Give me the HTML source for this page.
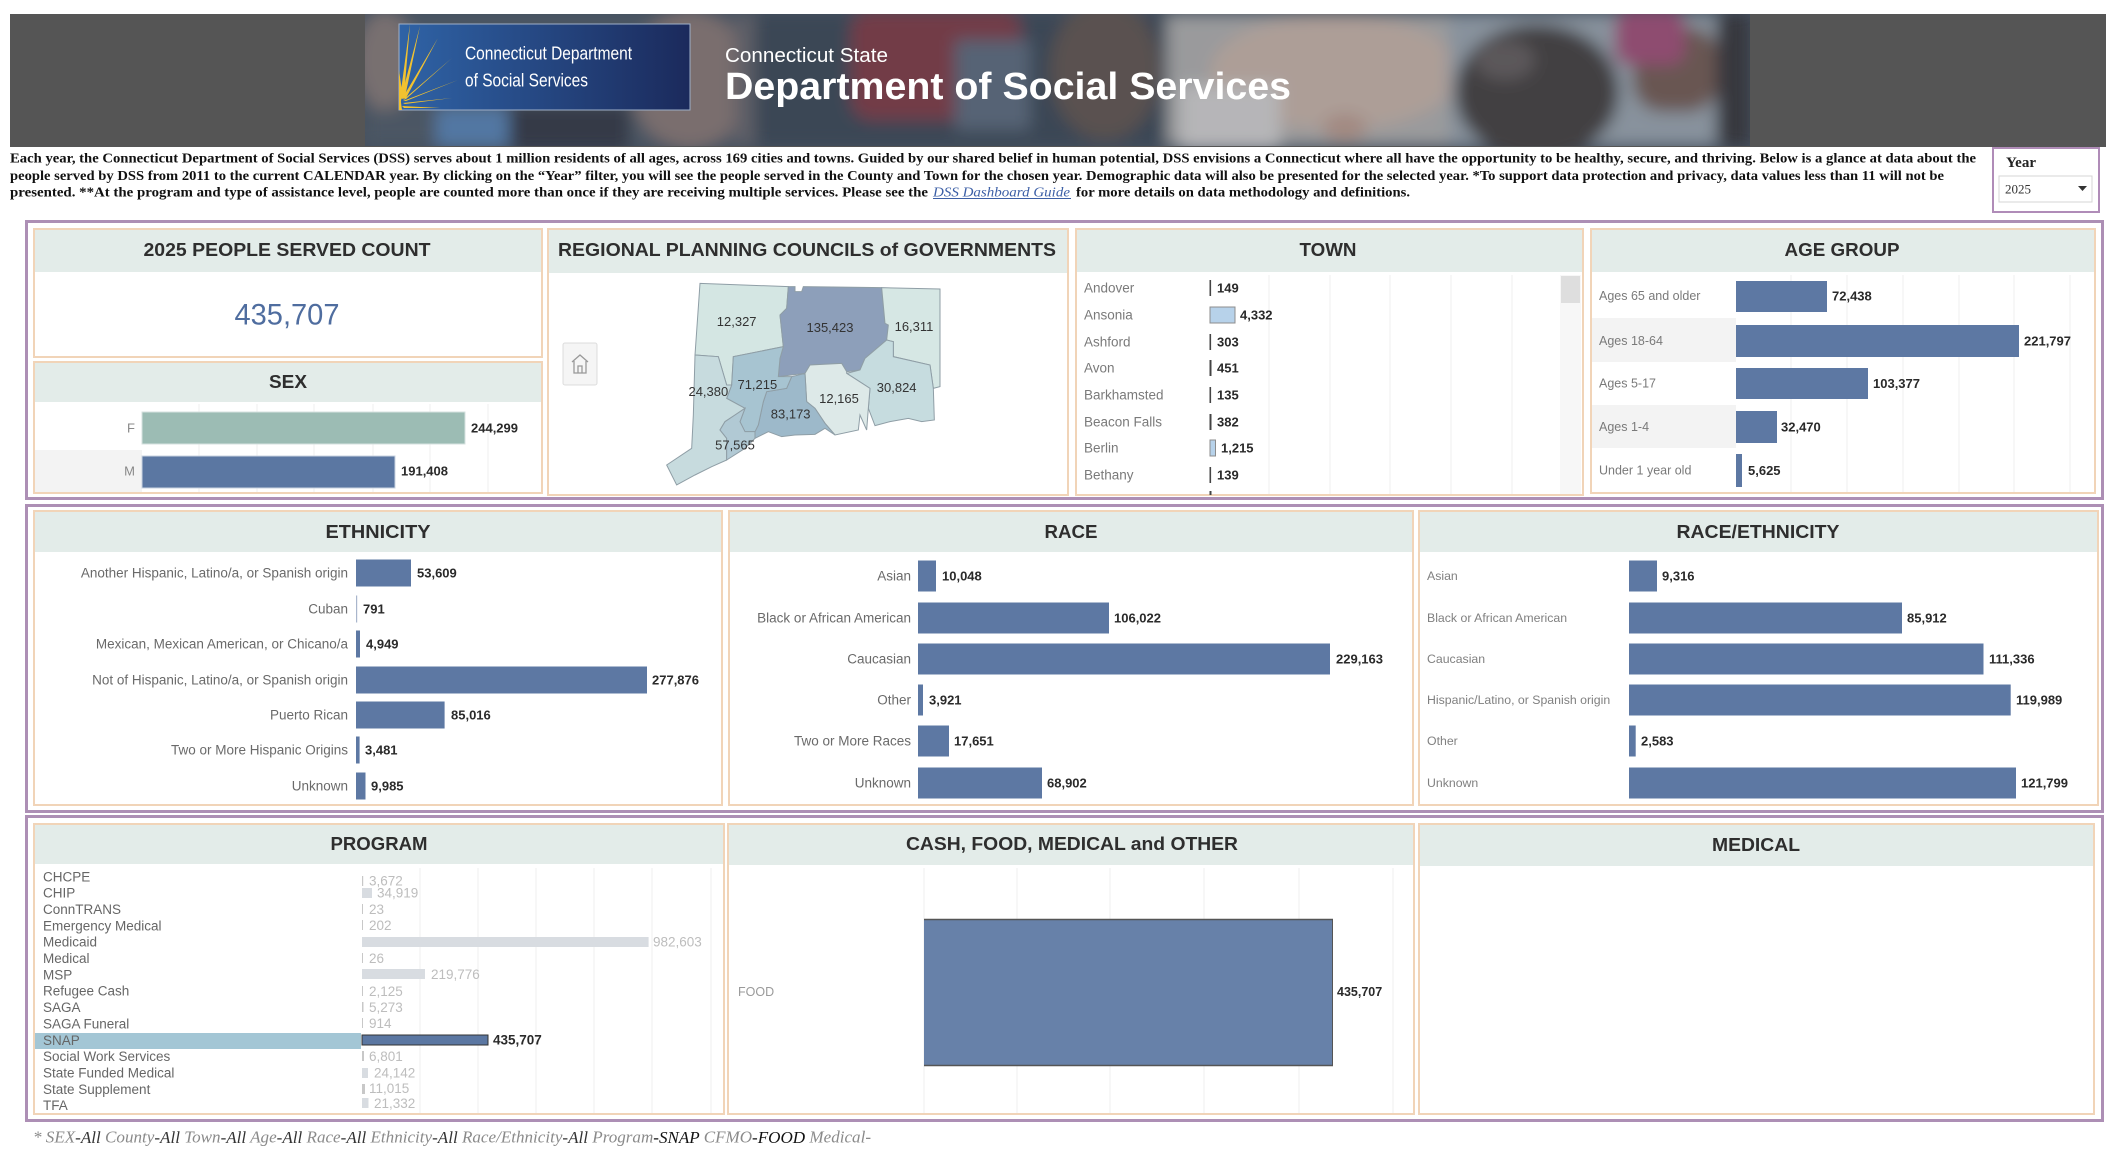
<!DOCTYPE html>
<html><head><meta charset="utf-8">
<style>
html,body{margin:0;padding:0;background:#fff;}
body{width:2127px;height:1159px;overflow:hidden;}
svg{display:block;}
text{font-family:"Liberation Sans",Arial,sans-serif;dominant-baseline:central;}
.hd{font-weight:bold;font-size:18px;fill:#2e2e2e;text-anchor:middle;}
.lb{font-size:13px;fill:#6e6e6e;}
.lr{font-size:13.5px;fill:#6a6a6a;text-anchor:end;}
.v{font-size:13px;font-weight:bold;fill:#2a2a2a;}
.pv{font-size:13.5px;fill:#bdbdbd;}
.g{stroke:#efefef;stroke-width:1;}
.bar{fill:#5d78a3;}
.pan{fill:#fff;stroke:#f1d4b8;stroke-width:2;}
.ph{fill:#e3ece9;}
.frm{fill:none;stroke:#ad8fb5;stroke-width:3;}
.ser{font-family:"Liberation Serif","Times New Roman",serif;font-weight:bold;font-size:13.5px;fill:#111;}
.mp{stroke:#8f9ea6;stroke-width:3;}
.ml{font-size:39px;fill:#333;text-anchor:middle;}
</style></head><body>
<svg width="2127" height="1159" viewBox="0 0 2127 1159" xmlns="http://www.w3.org/2000/svg">
<defs>
<clipPath id="pc"><rect x="365" y="14" width="1385" height="132"/></clipPath>
<filter id="bl" x="-5%" y="-5%" width="110%" height="110%"><feGaussianBlur stdDeviation="8"/></filter>
<linearGradient id="lg" x1="0" y1="0" x2="1" y2="0"><stop offset="0" stop-color="#2f63a6"/><stop offset="1" stop-color="#1b2a5c"/></linearGradient>
</defs>

<!-- Banner -->
<rect x="10" y="14" width="2096" height="133" fill="#555555"/>
<g clip-path="url(#pc)">
 <rect x="365" y="14" width="1385" height="132" fill="#4f5966"/>
 <g filter="url(#bl)">
  <rect x="365" y="14" width="390" height="132" fill="#56606c"/>
  <ellipse cx="385" cy="60" rx="30" ry="50" fill="#8d7f7a"/>
  <rect x="436" y="108" width="72" height="40" fill="#5e88b8"/>
  <rect x="510" y="105" width="120" height="45" fill="#3b3e48"/>
  <ellipse cx="690" cy="80" rx="60" ry="70" fill="#8f7d78"/>
  <rect x="735" y="14" width="20" height="132" fill="#6d6a70"/>
  <rect x="755" y="14" width="412" height="132" fill="#434d5a"/>
  <rect x="851" y="10" width="170" height="110" rx="20" fill="#86404a"/>
  <rect x="955" y="40" width="75" height="90" fill="#646f80"/>
  <ellipse cx="1105" cy="70" rx="55" ry="70" fill="#675a52"/>
  <rect x="1167" y="14" width="282" height="132" fill="#b6b3b0"/>
  <ellipse cx="1335" cy="72" rx="125" ry="58" fill="#cdb7aa"/>
  <rect x="1180" y="85" width="100" height="65" fill="#d8d4d2"/>
  <ellipse cx="1345" cy="128" rx="22" ry="14" fill="#c09e8f"/>
  <rect x="1449" y="14" width="301" height="132" fill="#a0a9b1"/>
  <ellipse cx="1537" cy="92" rx="82" ry="68" fill="#4b4543"/>
  <ellipse cx="1505" cy="60" rx="30" ry="20" fill="#6a6260"/>
  <rect x="1633" y="27" width="85" height="85" rx="30" fill="#7a6056"/>
  <rect x="1615" y="10" width="70" height="55" rx="15" fill="#a8537a"/>
  <rect x="1716" y="14" width="34" height="132" fill="#3e3a3c"/>
 </g>
 <rect x="365" y="14" width="1385" height="132" fill="#1c2a40" opacity="0.18"/>
</g>
<!-- logo -->
<rect x="399" y="24" width="291" height="86" fill="url(#lg)" stroke="#9fb0c8" stroke-width="1"/>
<g fill="#f2c230">
 <polygon points="399,110 399,80 402,96"/>
 <polygon points="400,98 404,96 410,24"/>
 <polygon points="401,98 405,97 420,26"/>
 <polygon points="402,99 406,98 438,38"/>
 <polygon points="403,100 406,99 452,58"/>
 <polygon points="403,101 406,101 458,80"/>
 <polygon points="403,103 405,104 452,98"/>
 <polygon points="402,106 404,108 440,108"/>
 <polygon points="399,88 402,110 399,110"/>
 <polygon points="399,70 403,98 399,100"/>
</g>
<text x="465" y="53" font-size="18.5" fill="#fff" textLength="167" lengthAdjust="spacingAndGlyphs">Connecticut Department</text>
<text x="465" y="80" font-size="18.5" fill="#fff" textLength="123" lengthAdjust="spacingAndGlyphs">of Social Services</text>
<text x="725" y="56" font-size="20" fill="#fff" textLength="163" lengthAdjust="spacingAndGlyphs">Connecticut State</text>
<text x="725" y="87" font-size="38" font-weight="bold" fill="#fff" textLength="566" lengthAdjust="spacingAndGlyphs">Department of Social Services</text>

<!-- Description -->
<text class="ser" x="10" y="158" textLength="1966" lengthAdjust="spacingAndGlyphs">Each year, the Connecticut Department of Social Services (DSS) serves about 1 million residents of all ages, across 169 cities and towns. Guided by our shared belief in human potential, DSS envisions a Connecticut where all have the opportunity to be healthy, secure, and thriving. Below is a glance at data about the</text>
<text class="ser" x="10" y="175.5" textLength="1934" lengthAdjust="spacingAndGlyphs">people served by DSS from 2011 to the current CALENDAR year. By clicking on the “Year” filter, you will see the people served in the County and Town for the chosen year. Demographic data will also be presented for the selected year. *To support data protection and privacy, data values less than 11 will not be</text>
<text class="ser" x="10" y="192" textLength="918" lengthAdjust="spacingAndGlyphs">presented.   **At the program and type of assistance level, people are counted more than once if they are receiving multiple services.  Please see the</text>
<text class="ser" x="933" y="192" textLength="137" lengthAdjust="spacingAndGlyphs" font-style="italic" style="fill:#3c5fa6;font-weight:normal">DSS Dashboard Guide</text>
<line x1="933" y1="198.5" x2="1071" y2="198.5" stroke="#3c5fa6" stroke-width="1"/>
<text class="ser" x="1076" y="192" textLength="334" lengthAdjust="spacingAndGlyphs">for more details on data methodology and definitions.</text>

<!-- Year filter -->
<rect x="1993" y="148" width="106" height="64" fill="#fff" stroke="#b08cb8" stroke-width="2"/>
<text x="2006" y="163" style="font-family:'Liberation Serif',serif;font-weight:bold;font-size:15px;fill:#222">Year</text>
<rect x="1999" y="176" width="93" height="26" fill="#fff" stroke="#d4d4d4" stroke-width="1"/>
<text x="2005" y="189" style="font-family:'Liberation Serif',serif;font-size:13px;fill:#333">2025</text>
<polygon points="2078,186 2087,186 2082.5,191" fill="#333"/>

<!-- Frames -->
<rect class="frm" x="26.5" y="221.5" width="2076" height="277"/>
<rect class="frm" x="26.5" y="505.5" width="2076" height="306"/>
<rect class="frm" x="26.5" y="816.5" width="2076" height="304"/>

<!-- Row 1 panels -->
<rect class="pan" x="34" y="229" width="508" height="128"/>
<rect class="ph" x="35" y="230" width="506" height="42"/>
<text class="hd" x="287" y="250" textLength="287" lengthAdjust="spacingAndGlyphs">2025 PEOPLE SERVED COUNT</text>
<text x="287" y="315" font-size="30" fill="#4f6d9f" text-anchor="middle" textLength="105" lengthAdjust="spacingAndGlyphs">435,707</text>

<rect class="pan" x="34" y="362" width="508" height="131"/>
<rect class="ph" x="35" y="363" width="506" height="39"/>
<text class="hd" x="288" y="382" textLength="38" lengthAdjust="spacingAndGlyphs">SEX</text>
<rect x="35" y="450" width="107" height="42" fill="#f3f3f3"/>
<g class="g"><line x1="199" y1="404" x2="199" y2="492"/><line x1="257" y1="404" x2="257" y2="492"/><line x1="314" y1="404" x2="314" y2="492"/><line x1="373" y1="404" x2="373" y2="492"/><line x1="430" y1="404" x2="430" y2="492"/><line x1="488" y1="404" x2="488" y2="492"/></g>
<rect x="142" y="412" width="323" height="32" fill="#9cbcb4" stroke="#d6e2df" stroke-width="1"/>
<rect x="142" y="456" width="253" height="32" fill="#5b77a2" stroke="#c9d3e0" stroke-width="1"/>
<text class="lb" x="135" y="428" text-anchor="end" style="fill:#888">F</text>
<text class="lb" x="135" y="471" text-anchor="end" style="fill:#888">M</text>
<text class="v" x="471" y="428">244,299</text>
<text class="v" x="401" y="471">191,408</text>

<rect class="pan" x="548" y="229" width="520" height="266"/>
<rect class="ph" x="549" y="230" width="518" height="43"/>
<text class="hd" x="807" y="250" textLength="498" lengthAdjust="spacingAndGlyphs">REGIONAL PLANNING COUNCILS of GOVERNMENTS</text>
<rect x="563" y="343" width="34" height="42" rx="2" fill="#f5f5f5" stroke="#dcdcdc"/>
<path d="M572 362 L580 355 L588 362 M574 361 V373 H586 V361 M578 373 V366 H582 V373" fill="none" stroke="#999" stroke-width="1.3"/>
<g transform="translate(655,275) scale(0.33333)">
 <polygon class="mp" fill="#d4e6e3" points="135,25 400,35 395,100 375,120 385,215 235,245 230,330 215,330 190,245 120,240"/>
 <polygon class="mp" fill="#8d9fba" points="400,35 420,35 420,50 440,50 445,35 680,38 690,145 700,150 695,195 630,250 615,285 575,290 560,265 465,270 450,295 370,305 375,250 385,215 375,120 395,100"/>
 <polygon class="mp" fill="#d6e7e4" points="680,38 855,42 855,335 835,340 825,270 715,245 715,200 695,195 700,150 690,145"/>
 <polygon class="mp" fill="#c6dcdf" points="695,195 715,200 715,245 825,270 835,340 838,435 800,440 760,430 705,440 660,452 640,400 645,340 575,295 615,285 630,250"/>
 <polygon class="mp" fill="#dde9e8" points="465,270 560,265 575,290 575,295 645,340 640,400 635,465 615,420 610,465 540,480 510,445 480,400 455,380 450,295"/>
 <polygon class="mp" fill="#9db9ca" points="450,295 455,380 480,400 510,445 540,480 510,460 480,478 420,480 380,485 340,470 300,490 300,470 310,450 325,380 335,350 395,340 410,305"/>
 <polygon class="mp" fill="#a7c4d1" points="370,305 410,305 395,340 335,350 325,380 310,450 300,470 270,470 255,440 270,400 215,370 230,330 235,245 385,215 375,250"/>
 <polygon class="mp" fill="#c7dbde" points="120,240 190,245 215,330 230,330 215,370 270,400 240,420 210,440 195,465 215,490 215,555 170,575 120,600 65,630 35,570 110,520 115,420"/>
 <polygon class="mp" fill="#b1c9d4" points="270,400 255,440 270,470 300,470 300,490 270,520 215,555 215,490 195,465 210,440 240,420"/>
 <text class="ml" x="245" y="140">12,327</text>
 <text class="ml" x="525" y="157">135,423</text>
 <text class="ml" x="777" y="155">16,311</text>
 <text class="ml" x="160" y="350">24,380</text>
 <text class="ml" x="307" y="328">71,215</text>
 <text class="ml" x="552" y="370">12,165</text>
 <text class="ml" x="725" y="338">30,824</text>
 <text class="ml" x="407" y="417">83,173</text>
 <text class="ml" x="240" y="510">57,565</text>
</g>

<!-- Town -->
<rect class="pan" x="1076" y="229" width="507" height="266"/>
<rect class="ph" x="1077" y="230" width="505" height="42"/>
<text class="hd" x="1328" y="250" textLength="57" lengthAdjust="spacingAndGlyphs">TOWN</text>
<g class="g"><line x1="1269" y1="275" x2="1269" y2="494"/><line x1="1330" y1="275" x2="1330" y2="494"/><line x1="1390" y1="275" x2="1390" y2="494"/><line x1="1451" y1="275" x2="1451" y2="494"/><line x1="1512" y1="275" x2="1512" y2="494"/></g>
<rect x="1560" y="275" width="21" height="219" fill="#f7f7f7"/>
<rect x="1561" y="276" width="19" height="27" fill="#dedede"/>
<g class="lb" style="font-size:13.5px;fill:#7a7a7a">
<text x="1084" y="288">Andover</text><text x="1084" y="315">Ansonia</text><text x="1084" y="342">Ashford</text><text x="1084" y="368">Avon</text><text x="1084" y="395">Barkhamsted</text><text x="1084" y="422">Beacon Falls</text><text x="1084" y="448">Berlin</text><text x="1084" y="475">Bethany</text>
</g>
<g fill="#444">
<rect x="1209.5" y="280" width="1.6" height="16"/><rect x="1209.5" y="334" width="1.6" height="16"/><rect x="1209.5" y="360" width="2" height="16"/><rect x="1209.5" y="387" width="1.6" height="16"/><rect x="1209.5" y="414" width="2" height="16"/><rect x="1209.5" y="467" width="1.6" height="16"/><rect x="1209.5" y="491" width="2" height="4"/>
</g>
<rect x="1210" y="307" width="25" height="16" fill="#b7d2ea" stroke="#8c8c8c" stroke-width="1"/>
<rect x="1210" y="440" width="5.5" height="16" fill="#b7d2ea" stroke="#8c8c8c" stroke-width="1"/>
<g class="v">
<text x="1217" y="288">149</text><text x="1240" y="315">4,332</text><text x="1217" y="342">303</text><text x="1217" y="368">451</text><text x="1217" y="395">135</text><text x="1217" y="422">382</text><text x="1221" y="448">1,215</text><text x="1217" y="475">139</text>
</g>

<!-- Age group -->
<rect class="pan" x="1591" y="229" width="504" height="264"/>
<rect class="ph" x="1592" y="230" width="502" height="42"/>
<text class="hd" x="1842" y="250" textLength="115" lengthAdjust="spacingAndGlyphs">AGE GROUP</text>
<rect x="1592" y="318" width="144" height="44" fill="#f3f3f3"/>
<rect x="1592" y="405" width="144" height="43" fill="#f3f3f3"/>
<g class="g"><line x1="1791" y1="275" x2="1791" y2="492"/><line x1="1847" y1="275" x2="1847" y2="492"/><line x1="1903" y1="275" x2="1903" y2="492"/><line x1="1959" y1="275" x2="1959" y2="492"/><line x1="2014" y1="275" x2="2014" y2="492"/><line x1="2070" y1="275" x2="2070" y2="492"/></g>
<g class="lb" style="fill:#7a7a7a;font-size:12.5px">
<text x="1599" y="296">Ages 65 and older</text><text x="1599" y="341">Ages 18-64</text><text x="1599" y="383.5">Ages 5-17</text><text x="1599" y="427">Ages 1-4</text><text x="1599" y="470.5">Under 1 year old</text>
</g>
<g class="bar">
<rect x="1736" y="281" width="91" height="31"/><rect x="1736" y="325" width="283" height="32"/><rect x="1736" y="368" width="132" height="31"/><rect x="1736" y="411" width="41" height="32"/><rect x="1736" y="454" width="6" height="33"/>
</g>
<g class="v">
<text x="1832" y="296">72,438</text><text x="2024" y="341">221,797</text><text x="1873" y="383.5">103,377</text><text x="1781" y="427">32,470</text><text x="1748" y="470.5">5,625</text>
</g>

<!-- Row 2: Ethnicity -->
<rect class="pan" x="34" y="511" width="688" height="294"/>
<rect class="ph" x="35" y="512" width="686" height="40"/>
<text class="hd" x="378" y="532" textLength="105" lengthAdjust="spacingAndGlyphs">ETHNICITY</text>
<g class="lr">
<text x="348" y="573">Another Hispanic, Latino/a, or Spanish origin</text>
<text x="348" y="609">Cuban</text>
<text x="348" y="644">Mexican, Mexican American, or Chicano/a</text>
<text x="348" y="680">Not of Hispanic, Latino/a, or Spanish origin</text>
<text x="348" y="715">Puerto Rican</text>
<text x="348" y="750">Two or More Hispanic Origins</text>
<text x="348" y="786">Unknown</text>
</g>
<g class="bar">
<rect x="356" y="559.5" width="55" height="27"/><rect x="356" y="595.5" width="1.2" height="27" style="fill:#a9b6cc"/><rect x="356" y="630.5" width="4" height="27"/><rect x="356" y="666.5" width="291" height="27"/><rect x="356" y="701.5" width="88.6" height="27"/><rect x="356" y="736.5" width="3.6" height="27"/><rect x="356" y="772.5" width="9.5" height="27"/>
</g>
<g class="v">
<text x="417" y="573">53,609</text><text x="363" y="609">791</text><text x="366" y="644">4,949</text><text x="652" y="680">277,876</text><text x="451" y="715">85,016</text><text x="365" y="750">3,481</text><text x="371" y="786">9,985</text>
</g>

<!-- Race -->
<rect class="pan" x="729" y="511" width="684" height="294"/>
<rect class="ph" x="730" y="512" width="682" height="40"/>
<text class="hd" x="1071" y="532" textLength="53" lengthAdjust="spacingAndGlyphs">RACE</text>
<g class="lr">
<text x="911" y="576">Asian</text><text x="911" y="618">Black or African American</text><text x="911" y="659">Caucasian</text><text x="911" y="700">Other</text><text x="911" y="741">Two or More Races</text><text x="911" y="783">Unknown</text>
</g>
<g class="bar">
<rect x="918" y="560.5" width="18" height="31"/><rect x="918" y="602.5" width="191" height="31"/><rect x="918" y="643.5" width="412" height="31"/><rect x="918" y="684.5" width="5" height="31"/><rect x="918" y="725.5" width="31" height="31"/><rect x="918" y="767.5" width="124" height="31"/>
</g>
<g class="v">
<text x="942" y="576">10,048</text><text x="1114" y="618">106,022</text><text x="1336" y="659">229,163</text><text x="929" y="700">3,921</text><text x="954" y="741">17,651</text><text x="1047" y="783">68,902</text>
</g>

<!-- Race/Ethnicity -->
<rect class="pan" x="1419" y="511" width="679" height="294"/>
<rect class="ph" x="1420" y="512" width="677" height="40"/>
<text class="hd" x="1758" y="532" textLength="163" lengthAdjust="spacingAndGlyphs">RACE/ETHNICITY</text>
<g class="lb" style="fill:#808080;font-size:12.3px">
<text x="1427" y="576">Asian</text><text x="1427" y="618">Black or African American</text><text x="1427" y="659">Caucasian</text><text x="1427" y="700">Hispanic/Latino, or Spanish origin</text><text x="1427" y="741">Other</text><text x="1427" y="783">Unknown</text>
</g>
<g class="bar">
<rect x="1629" y="560.5" width="28" height="31"/><rect x="1629" y="602.5" width="273" height="31"/><rect x="1629" y="643.5" width="354.5" height="31"/><rect x="1629" y="684.5" width="381.7" height="31"/><rect x="1629" y="725.5" width="6.7" height="31"/><rect x="1629" y="767.5" width="387" height="31"/>
</g>
<g class="v">
<text x="1662" y="576">9,316</text><text x="1907" y="618">85,912</text><text x="1989" y="659">111,336</text><text x="2016" y="700">119,989</text><text x="1641" y="741">2,583</text><text x="2021" y="783">121,799</text>
</g>

<!-- Row 3: Program -->
<rect class="pan" x="34" y="824" width="690" height="290"/>
<rect class="ph" x="35" y="825" width="688" height="39"/>
<text class="hd" x="379" y="844" textLength="97" lengthAdjust="spacingAndGlyphs">PROGRAM</text>
<g class="g"><line x1="420" y1="868" x2="420" y2="1113"/><line x1="478" y1="868" x2="478" y2="1113"/><line x1="536" y1="868" x2="536" y2="1113"/><line x1="594" y1="868" x2="594" y2="1113"/><line x1="652" y1="868" x2="652" y2="1113"/><line x1="711" y1="868" x2="711" y2="1113"/></g>
<rect x="35" y="1033" width="326" height="16" fill="#a3c6d5"/>
<g class="lb" style="font-size:13.5px;fill:#666">
<text x="43" y="877">CHCPE</text><text x="43" y="893">CHIP</text><text x="43" y="909.5">ConnTRANS</text><text x="43" y="926">Emergency Medical</text><text x="43" y="942">Medicaid</text><text x="43" y="958.5">Medical</text><text x="43" y="975">MSP</text><text x="43" y="991">Refugee Cash</text><text x="43" y="1007.5">SAGA</text><text x="43" y="1024">SAGA Funeral</text><text x="43" y="1040.5">SNAP</text><text x="43" y="1056.5">Social Work Services</text><text x="43" y="1073">State Funded Medical</text><text x="43" y="1089.5">State Supplement</text><text x="43" y="1105.5">TFA</text>
</g>
<g fill="#d8dce1">
<rect x="362" y="876" width="1.2" height="10" fill="#c8c8c8"/><rect x="362" y="888" width="10" height="10"/><rect x="362" y="904" width="1" height="10" fill="#c8c8c8"/><rect x="362" y="920" width="1" height="10" fill="#c8c8c8"/><rect x="362" y="937" width="286.6" height="10"/><rect x="362" y="953" width="1" height="10" fill="#c8c8c8"/><rect x="362" y="969" width="63" height="10"/><rect x="362" y="986" width="1" height="10" fill="#c8c8c8"/><rect x="362" y="1002" width="1.5" height="10" fill="#c8c8c8"/><rect x="362" y="1018" width="1" height="10" fill="#c8c8c8"/><rect x="362" y="1051" width="2" height="10" fill="#c8c8c8"/><rect x="362" y="1068" width="6" height="10"/><rect x="362" y="1084" width="3" height="10" fill="#c8c8c8"/><rect x="362" y="1098" width="6.5" height="10"/>
</g>
<rect x="362" y="1035" width="126" height="10" fill="#5b77a2" stroke="#333" stroke-width="1"/>
<g class="pv">
<text x="369" y="881">3,672</text><text x="377" y="893">34,919</text><text x="369" y="909.5">23</text><text x="369" y="925.5">202</text><text x="653" y="942">982,603</text><text x="369" y="958.5">26</text><text x="431" y="974.5">219,776</text><text x="369" y="991.5">2,125</text><text x="369" y="1007.5">5,273</text><text x="369" y="1023.5">914</text><text x="369" y="1056.5">6,801</text><text x="374" y="1073">24,142</text><text x="369" y="1088.5">11,015</text><text x="374" y="1103.5">21,332</text>
</g>
<text class="v" x="493" y="1040" style="font-size:13.5px">435,707</text>

<!-- CFMO -->
<rect class="pan" x="728" y="824" width="686" height="290"/>
<rect class="ph" x="729" y="825" width="684" height="40"/>
<text class="hd" x="1072" y="844" textLength="332" lengthAdjust="spacingAndGlyphs">CASH, FOOD, MEDICAL and OTHER</text>
<g class="g"><line x1="924" y1="868" x2="924" y2="1113"/><line x1="1017" y1="868" x2="1017" y2="1113"/><line x1="1110" y1="868" x2="1110" y2="1113"/><line x1="1204" y1="868" x2="1204" y2="1113"/><line x1="1299" y1="868" x2="1299" y2="1113"/><line x1="1393" y1="868" x2="1393" y2="1113"/></g>
<rect x="924" y="919" width="409" height="147" fill="#6781a9"/>
<line x1="924" y1="919.5" x2="1333" y2="919.5" stroke="#555" stroke-width="1.5"/>
<line x1="924" y1="1065.5" x2="1333" y2="1065.5" stroke="#555" stroke-width="1.5"/>
<line x1="1332.5" y1="919" x2="1332.5" y2="1066" stroke="#555" stroke-width="1"/>
<text class="lb" x="738" y="992" style="fill:#9a9a9a;font-size:12.5px">FOOD</text>
<text class="v" x="1337" y="992" style="font-size:12.5px">435,707</text>

<!-- Medical -->
<rect class="pan" x="1419" y="824" width="675" height="290"/>
<rect class="ph" x="1420" y="825" width="673" height="41"/>
<text class="hd" x="1756" y="845" textLength="88" lengthAdjust="spacingAndGlyphs">MEDICAL</text>

<!-- Footer -->
<text x="33" y="1137" textLength="838" lengthAdjust="spacingAndGlyphs" style="font-family:'Liberation Serif','Times New Roman',serif;font-style:italic;font-size:17px;fill:#8a8a8a">* SEX<tspan fill="#333">-All</tspan>  County<tspan fill="#333">-All</tspan>  Town<tspan fill="#333">-All</tspan>  Age<tspan fill="#333">-All</tspan>  Race<tspan fill="#333">-All</tspan>  Ethnicity<tspan fill="#333">-All</tspan>  Race/Ethnicity<tspan fill="#333">-All</tspan>  Program<tspan fill="#111">-SNAP</tspan> CFMO<tspan fill="#111">-FOOD</tspan>  Medical-</text>
</svg>
</body></html>
